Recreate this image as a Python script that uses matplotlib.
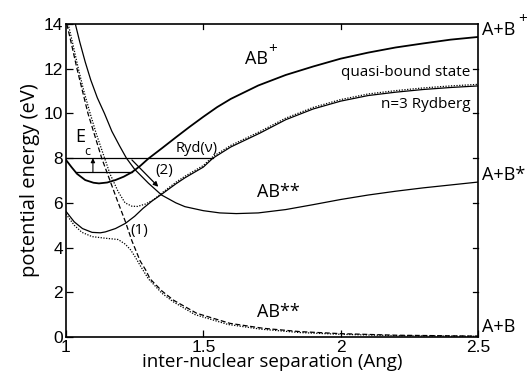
import matplotlib
matplotlib.use("Agg")
import matplotlib.pyplot as plt

# ---------------- data ----------------
# AB+ ion curve (thick solid)
ion_x = [1.00, 1.02, 1.04, 1.07, 1.10, 1.12, 1.15, 1.18, 1.21, 1.24, 1.27, 1.30,
         1.35, 1.40, 1.45, 1.50, 1.55, 1.60, 1.70, 1.80, 1.90, 2.00, 2.10, 2.20,
         2.30, 2.40, 2.50]
ion_y = [7.92, 7.60, 7.30, 7.02, 6.90, 6.87, 6.91, 7.02, 7.17, 7.37, 7.65, 7.98,
         8.45, 8.93, 9.40, 9.85, 10.28, 10.65, 11.25, 11.72, 12.10, 12.45, 12.72,
         12.95, 13.13, 13.30, 13.42]

# upper AB** diabatic (thin solid, dissociates to A+B*)
abu_x = [1.034, 1.05, 1.07, 1.09, 1.114, 1.14, 1.167, 1.195, 1.22, 1.25, 1.30,
         1.348, 1.40, 1.433, 1.50, 1.56, 1.62, 1.70, 1.80, 1.90, 2.00, 2.10,
         2.20, 2.30, 2.40, 2.50]
abu_y = [14.0, 13.2, 12.3, 11.5, 10.7, 10.0, 9.2, 8.55, 8.0, 7.5, 6.88,
         6.35, 6.0, 5.83, 5.65, 5.55, 5.52, 5.55, 5.70, 5.92, 6.15, 6.35,
         6.52, 6.67, 6.80, 6.93]

# n=3 Rydberg diabatic (thin solid)
ryd_x = [1.00, 1.03, 1.06, 1.095, 1.125, 1.143, 1.18, 1.216, 1.25, 1.28, 1.313,
         1.35, 1.40, 1.433, 1.50, 1.535, 1.60, 1.706, 1.80, 1.90, 2.00, 2.10,
         2.20, 2.30, 2.40, 2.50]
ryd_y = [5.62, 5.15, 4.85, 4.68, 4.66, 4.70, 4.85, 5.08, 5.40, 5.75, 6.08,
         6.40, 6.85, 7.12, 7.60, 8.00, 8.50, 9.12, 9.72, 10.20, 10.55, 10.80,
         10.95, 11.07, 11.16, 11.23]

# repulsive AB** diabatic (dashed, dissociates to A+B)
rep_x = [1.003, 1.02, 1.04, 1.06, 1.08, 1.105, 1.13, 1.16, 1.187, 1.215, 1.24,
         1.27, 1.29, 1.306, 1.35, 1.391, 1.476, 1.597, 1.718, 1.852, 2.00, 2.20,
         2.50]
rep_y = [14.0, 13.1, 12.0, 11.0, 10.0, 9.0, 8.0, 7.0, 6.1, 5.2, 4.3,
         3.4, 3.0, 2.6, 2.05, 1.65, 1.06, 0.61, 0.39, 0.24, 0.15, 0.08,
         0.04]

# upper adiabatic (quasi-bound state, dotted)
qb_x = [1.008, 1.025, 1.045, 1.065, 1.088, 1.11, 1.135, 1.16, 1.19, 1.215, 1.24,
        1.26, 1.29, 1.32, 1.35, 1.40, 1.433, 1.50, 1.535, 1.60, 1.706, 1.80,
        1.90, 2.00, 2.10, 2.20, 2.30, 2.40, 2.50]
qb_y = [14.0, 13.1, 12.0, 11.0, 10.0, 9.1, 8.2, 7.3, 6.5, 6.0, 5.85,
        5.84, 5.95, 6.15, 6.45, 6.92, 7.19, 7.67, 8.07, 8.57, 9.19, 9.79,
        10.27, 10.62, 10.87, 11.02, 11.14, 11.23, 11.30]

# lower adiabatic (dotted)
lo_x = [1.00, 1.03, 1.058, 1.095, 1.142, 1.19, 1.216, 1.235, 1.251, 1.27, 1.30,
        1.35, 1.39, 1.47, 1.59, 1.71, 1.85, 2.00, 2.20, 2.50]
lo_y = [5.50, 5.00, 4.68, 4.49, 4.42, 4.36, 4.15, 3.90, 3.60, 3.20, 2.60,
        1.95, 1.58, 1.00, 0.56, 0.35, 0.20, 0.12, 0.06, 0.03]

# vibrational levels
level_ryd = 8.0           # Ryd(nu)
level_ryd_x = [1.0, 1.535]
level_ion = 7.37
level_ion_x = [1.035, 1.24]

xticks = [1, 1.5, 2, 2.5]
xtick_labels = ["1", "1.5", "2", "2.5"]
yticks = [0, 2, 4, 6, 8, 10, 12, 14]

# ---------------- figure ----------------
label_font = ["Open Sans", "DejaVu Sans"]
tick_font = ["Liberation Sans", "DejaVu Sans"]

fig = plt.figure(figsize=(5.32, 3.81), dpi=100)
ax = fig.add_axes([66 / 532, 1 - 337 / 381, 412 / 532, 313 / 381])

ax.plot(ion_x, ion_y, color="k", lw=1.3)
ax.plot(abu_x, abu_y, color="k", lw=0.9)
ax.plot(ryd_x, ryd_y, color="k", lw=0.9)
ax.plot(rep_x, rep_y, color="k", lw=0.9, ls=(0, (4, 2)))
ax.plot(qb_x, qb_y, color="k", lw=0.9, ls=(0, (1, 1.2)))
ax.plot(lo_x, lo_y, color="k", lw=0.9, ls=(0, (1, 1.2)))

ax.plot(level_ryd_x, [level_ryd, level_ryd], color="k", lw=0.9)
ax.plot(level_ion_x, [level_ion, level_ion], color="k", lw=0.9)

# E_c arrow
ax.annotate("", xy=(1.098, level_ryd), xytext=(1.098, level_ion),
            arrowprops=dict(arrowstyle="-|>", color="k", lw=0.8,
                            mutation_scale=6, shrinkA=0, shrinkB=0))
# (2) arrow
ax.annotate("", xy=(1.336, 6.72), xytext=(1.24, 7.92),
            arrowprops=dict(arrowstyle="-|>", color="k", lw=0.9,
                            mutation_scale=7, shrinkA=0, shrinkB=0))

ax.set_xlim(1, 2.5)
ax.set_ylim(0, 14)
ax.set_xticks(xticks)
ax.set_xticklabels(xtick_labels)
ax.set_yticks(yticks)
ax.tick_params(direction="in", length=5, width=0.9, top=False, right=False,
               labelsize=12.5, pad=2)
for lab in ax.get_xticklabels() + ax.get_yticklabels():
    lab.set_family(tick_font)
for s in ax.spines.values():
    s.set_linewidth(1.2)

# top ticks at 1.5 and 2, right ticks at 2..12
for xv in xticks[1:3]:
    ax.plot([xv, xv], [14, 14 - 0.22], color="k", lw=0.9, clip_on=False)
for yv in yticks[1:7]:
    ax.plot([2.5, 2.5 - 0.018], [yv, yv], color="k", lw=0.9, clip_on=False)

ax.set_xlabel("inter-nuclear separation (Ang)", fontsize=13.5,
              family=label_font, labelpad=-1)
ax.set_ylabel("potential energy (eV)", fontsize=14.5, family=label_font,
              labelpad=3)

fs = 13
ax.text(1.652, 12.45, "AB", fontsize=fs, family=label_font, va="center")
ax.text(1.735, 12.85, "+", fontsize=fs - 2, family=label_font, va="center")
ax.text(2.474, 11.85, "quasi-bound state", fontsize=11, family=label_font,
        ha="right", va="center")
ax.text(2.474, 10.38, "n=3 Rydberg", fontsize=11, family=label_font,
        ha="right", va="center")
ax.text(1.40, 8.1, "Ryd(\u03bd)", fontsize=10.5, family=label_font,
        va="bottom")
ax.text(1.324, 7.45, "(2)", fontsize=11, family=label_font, va="center")
ax.text(1.233, 4.78, "(1)", fontsize=11, family=label_font, va="center")
ax.text(1.695, 6.5, "AB**", fontsize=fs, family=label_font, va="center")
ax.text(1.695, 1.12, "AB**", fontsize=fs, family=label_font, va="center")
ax.text(1.033, 8.95, "E", fontsize=fs, family=label_font, va="center")
ax.text(1.066, 8.3, "c", fontsize=9, family=label_font, va="center")

# asymptote labels on the right
ax.text(2.513, 13.72, "A+B", fontsize=fs, family=label_font, va="center")
ax.text(2.645, 14.2, "+", fontsize=fs - 2, family=label_font, va="center")
ax.text(2.513, 7.25, "A+B*", fontsize=fs, family=label_font, va="center")
ax.text(2.513, 0.45, "A+B", fontsize=fs, family=label_font, va="center")

fig.savefig("out.png", dpi=100)
